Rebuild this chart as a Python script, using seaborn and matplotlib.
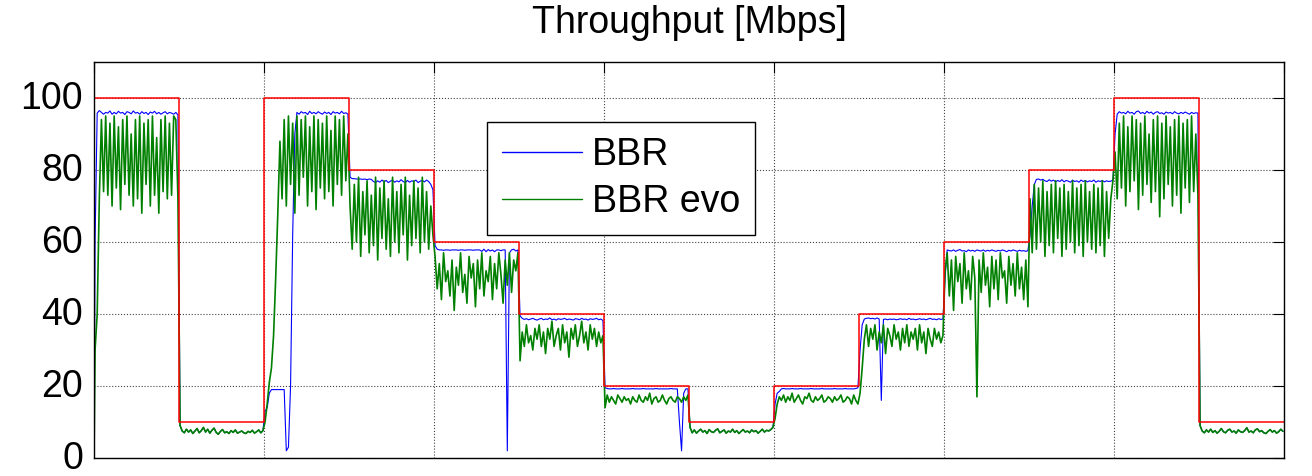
import numpy as np
import matplotlib
matplotlib.use("Agg")
import matplotlib.pyplot as plt
import matplotlib.transforms as mtransforms
import seaborn as sns

# ---------------- data ----------------
title_text = "Throughput [Mbps]"
series_labels = ["BBR", "BBR evo"]
x_ticks = [0, 20, 40, 60, 80, 100, 120, 140]
y_ticks = [0, 20, 40, 60, 80, 100]
seg_len = 10  # seconds per capacity step

# link capacity (red step line), one value per 10 s segment
capacity = [100, 10, 100, 80, 60, 40, 20, 10, 20, 40, 60, 80, 100, 10]

# BBR evo (green) – samples per segment
evo_start = [0]
evo_s00 = [30, 40, 72, 94, 74, 95, 73, 93, 70, 95,
           75, 92, 69, 94, 76, 95, 73, 90, 70, 94,
           72, 95, 68, 93, 76, 94, 70, 95, 73, 89,
           68, 94, 74, 95, 72, 93, 73, 95, 94, 72]
evo_s01 = [9.0, 7.5, 7.0, 8.0, 7.2, 7.8, 6.8, 7.5, 8.2, 7.0,
           7.6, 8.5, 7.2, 8.0, 6.9, 7.7, 8.3, 7.1, 6.6, 7.4,
           7.9, 7.0, 7.3, 6.8, 7.6, 7.1, 7.8, 6.9, 7.2, 7.5,
           7.0, 6.8, 7.4, 7.1, 7.7, 6.9, 7.3, 7.8, 7.0, 7.6]
evo_s02 = [10, 15, 21, 25, 34, 50, 68, 88, 72, 94,
           70, 95, 76, 93, 68, 95, 73, 94, 78, 95,
           70, 92, 74, 95, 69, 94, 75, 93, 72, 95,
           74, 91, 70, 95, 76, 94, 73, 95, 77, 90]
evo_s03 = [70, 58, 76, 60, 78, 56, 74, 62, 77, 57,
           73, 59, 78, 55, 75, 61, 77, 58, 72, 56,
           78, 60, 74, 57, 76, 62, 78, 55, 73, 59,
           77, 61, 75, 57, 78, 60, 74, 58, 70, 62]
evo_s04 = [56, 47, 54, 44, 57, 49, 52, 45, 55, 41,
           53, 48, 57, 46, 51, 43, 56, 50, 54, 42,
           55, 47, 57, 45, 52, 49, 56, 44, 54, 47,
           57, 51, 43, 55, 48, 57, 46, 55, 52, 57]
evo_s05 = [27, 35, 31, 37, 32, 34, 30, 36, 33, 37,
           31, 35, 29, 36, 33, 38, 31, 34, 36, 30,
           37, 32, 35, 28, 36, 33, 37, 31, 34, 38,
           32, 35, 30, 37, 33, 36, 31, 35, 32, 34]
evo_s06 = [14.0, 17.5, 15.5, 17.0, 16.0, 15.0, 17.5, 16.5, 15.5, 17.0,
           16.0, 16.5, 15.0, 17.0, 16.0, 15.5, 17.5, 16.0, 15.5, 17.0,
           16.0, 18.0, 15.0, 16.5, 17.0, 15.5, 16.0, 17.5, 16.0, 15.0,
           16.5, 17.0, 16.0, 15.5, 17.0, 16.5, 15.5, 17.0, 16.0, 17.5]
evo_s07 = [8.5, 7.0, 7.8, 6.9, 7.5, 8.0, 7.2, 7.6, 6.8, 7.9,
           7.3, 7.1, 7.7, 8.1, 7.0, 7.4, 7.8, 6.9, 7.5, 7.2,
           8.0, 7.1, 7.6, 6.8, 7.4, 7.9, 7.2, 7.5, 7.0, 7.8,
           7.3, 7.6, 6.9, 7.4, 8.0, 7.2, 7.7, 7.5, 7.9, 8.5]
evo_s08 = [11.0, 15.0, 17.0, 16.0, 17.5, 15.5, 17.0, 16.0, 18.0, 15.5,
           16.5, 17.5, 16.0, 15.0, 17.0, 16.5, 18.0, 16.0, 15.5, 17.0,
           16.0, 16.5, 17.5, 15.5, 16.0, 17.0, 16.5, 15.5, 17.0, 16.0,
           16.5, 17.5, 15.5, 16.0, 17.0, 16.5, 15.0, 17.5, 16.0, 15.0]
evo_s09 = [18, 25, 33, 37, 31, 36, 33, 37, 30, 35,
           32, 37, 29, 36, 34, 31, 37, 33, 35, 30,
           36, 32, 37, 31, 35, 33, 36, 30, 37, 32,
           35, 29, 36, 33, 31, 36, 33, 35, 32, 34]
evo_s10 = [52, 57, 45, 55, 41, 56, 49, 54, 43, 57,
           47, 52, 44, 56, 50, 17, 55, 46, 57, 48,
           53, 42, 56, 47, 55, 44, 57, 50, 52, 43,
           56, 48, 54, 45, 57, 47, 53, 44, 55, 42]
evo_s11 = [72, 57, 76, 58, 75, 60, 77, 56, 74, 59,
           76, 57, 77, 61, 75, 56, 76, 58, 74, 60,
           77, 57, 75, 59, 76, 56, 77, 60, 74, 58,
           76, 57, 75, 59, 77, 56, 74, 61, 72, 77]
evo_s12 = [85, 72, 93, 75, 95, 70, 92, 74, 95, 77,
           94, 69, 93, 73, 95, 76, 90, 71, 94, 74,
           95, 67, 93, 72, 95, 76, 92, 70, 94, 73,
           95, 68, 93, 75, 94, 71, 95, 74, 90, 73]
evo_s13 = [9.0, 7.5, 7.0, 7.8, 7.2, 8.0, 7.1, 7.6, 6.9, 7.4,
           8.2, 7.3, 7.0, 7.7, 8.0, 7.2, 7.5, 6.9, 7.8, 7.3,
           7.1, 7.6, 8.4, 7.2, 7.5, 7.0, 7.8, 8.1, 7.3, 7.6,
           7.0, 6.8, 7.4, 7.9, 7.2, 7.6, 6.9, 7.3, 8.0, 7.4]

# BBR (blue) – samples per segment (in the 10 Mbps segments it lies under the green line)
bbr_start = [0]
bbr_s00 = [60, 95.8, 96.5, 96.0, 95.5, 96.0, 95.8, 96.4, 95.5, 96.0,
           95.6, 96.3, 95.8, 96.0, 95.4, 96.2, 96.0, 95.6, 96.4, 95.8,
           96.0, 95.5, 96.2, 95.7, 96.0, 95.4, 96.1, 95.8, 96.3, 95.6,
           96.0, 95.5, 95.9, 96.2, 95.6, 96.0, 95.8, 95.5, 96.0, 95.3]
bbr_s01 = evo_s01
bbr_s02 = [13.0, 14.0, 18.0, 19.0, 19.0, 19.0, 19.0, 19.0, 19.0, 19.0,
           2.0, 3.0, 20.0, 62.0, 90.0, 96.0, 95.5, 96.2, 95.8, 96.0,
           95.4, 96.3, 95.7, 96.0, 95.6, 96.2, 95.8, 95.5, 96.1, 95.7,
           96.0, 95.4, 96.2, 95.8, 96.0, 95.6, 96.3, 95.7, 95.9, 95.5]
bbr_s03 = [78.0, 77.6, 77.6, 77.5, 77.5, 77.5, 77.4, 77.5, 77.3, 77.5,
           77.4, 76.8, 76.5, 77.0, 76.6, 77.2, 76.7, 77.1, 76.5, 76.9,
           77.2, 76.6, 77.0, 76.7, 77.3, 76.8, 76.5, 77.1, 76.6, 77.0,
           76.8, 77.2, 76.5, 76.9, 77.1, 76.7, 77.2, 76.8, 76.0, 74.5]
bbr_s04 = [59.0, 58.0, 57.8, 57.8, 57.7, 57.8, 57.8, 57.7, 57.8, 57.8,
           57.8, 57.7, 57.8, 57.8, 57.7, 57.8, 57.8, 57.8, 57.7, 57.8,
           57.8, 57.8, 57.4, 58.0, 57.3, 57.9, 57.5, 57.8, 57.3, 57.8,
           57.8, 57.6, 57.8, 57.8, 2.0, 57.0, 57.8, 58.0, 57.5, 57.8]
bbr_s05 = [39.5, 38.8, 38.5, 38.7, 38.4, 38.6, 38.8, 38.5, 38.3, 38.6,
           38.8, 38.4, 38.6, 38.5, 38.9, 38.4, 38.6, 38.3, 38.7, 38.5,
           38.6, 38.8, 38.4, 38.6, 38.5, 38.3, 38.7, 38.6, 38.4, 38.8,
           38.5, 38.6, 38.3, 38.7, 38.5, 38.6, 38.8, 38.4, 38.6, 38.2]
bbr_s06 = [19.5, 19.3, 19.2, 19.2, 19.3, 19.2, 19.2, 19.2, 19.3, 19.2,
           19.2, 19.2, 19.2, 19.3, 19.2, 19.2, 19.2, 19.2, 19.3, 19.2,
           19.2, 19.2, 19.2, 19.2, 19.3, 19.2, 19.2, 19.2, 19.2, 19.2,
           19.2, 19.3, 19.2, 19.2, 19.2, 10.0, 2.0, 18.0, 19.2, 19.2]
bbr_s07 = evo_s07
bbr_s08 = [15.0, 18.0, 18.5, 19.2, 19.3, 19.2, 19.2, 19.2, 19.3, 19.2,
           19.2, 19.2, 19.3, 19.2, 19.2, 19.2, 19.2, 19.3, 19.2, 19.2,
           19.2, 19.2, 19.3, 19.2, 19.2, 19.2, 19.2, 19.2, 19.3, 19.2,
           19.2, 19.2, 19.2, 19.3, 19.2, 19.2, 19.2, 19.2, 19.3, 19.5]
bbr_s09 = [30.0, 37.0, 38.6, 38.8, 38.9, 38.7, 38.8, 38.6, 38.9, 38.6,
           16.0, 38.5, 38.6, 38.4, 38.6, 38.5, 38.6, 38.4, 38.5, 38.7,
           38.5, 38.6, 38.4, 38.8, 38.5, 38.6, 38.4, 38.5, 38.7, 38.5,
           38.6, 38.4, 38.6, 38.8, 38.5, 38.6, 38.4, 38.7, 38.5, 38.6]
bbr_s10 = [50.0, 57.8, 57.6, 57.5, 57.8, 57.4, 57.7, 57.9, 57.5, 57.6,
           57.3, 57.8, 57.5, 57.7, 57.4, 57.8, 57.6, 57.5, 57.8, 57.4,
           57.7, 57.5, 57.8, 57.6, 57.4, 57.7, 57.5, 57.8, 57.6, 57.3,
           57.7, 57.5, 57.8, 57.6, 57.4, 57.7, 57.5, 57.6, 57.4, 57.6]
bbr_s11 = [62.0, 70.0, 76.0, 77.4, 77.5, 77.2, 77.4, 77.0, 76.8, 77.3,
           76.9, 77.2, 76.7, 77.1, 76.8, 77.3, 76.7, 77.1, 76.9, 76.6,
           77.2, 76.8, 77.0, 76.6, 77.2, 76.8, 77.1, 76.7, 77.0, 76.8,
           77.2, 76.6, 77.0, 76.8, 77.1, 76.7, 77.0, 76.8, 76.9, 77.2]
bbr_s12 = [90.0, 95.5, 96.2, 95.8, 96.0, 95.6, 96.3, 95.8, 96.0, 95.5,
           96.2, 96.4, 95.7, 96.0, 95.6, 96.3, 95.8, 96.1, 95.5, 96.0,
           96.2, 95.7, 95.9, 95.5, 96.1, 95.8, 96.0, 95.6, 96.2, 95.8,
           95.6, 96.0, 95.7, 96.1, 95.8, 95.5, 96.0, 95.7, 95.9, 95.8]
bbr_s13 = evo_s13

evo_segments = [evo_s00, evo_s01, evo_s02, evo_s03, evo_s04, evo_s05, evo_s06,
                evo_s07, evo_s08, evo_s09, evo_s10, evo_s11, evo_s12, evo_s13]
bbr_segments = [bbr_s00, bbr_s01, bbr_s02, bbr_s03, bbr_s04, bbr_s05, bbr_s06,
                bbr_s07, bbr_s08, bbr_s09, bbr_s10, bbr_s11, bbr_s12, bbr_s13]


def build_series(start, segments):
    t = [0.0]
    v = list(start)
    for i, seg in enumerate(segments):
        n = len(seg)
        t.extend(seg_len * i + (np.arange(n) + 0.5) * seg_len / n)
        v.extend(seg)
    return np.asarray(t, float), np.asarray(v, float)


t_bbr, v_bbr = build_series(bbr_start, bbr_segments)
t_evo, v_evo = build_series(evo_start, evo_segments)
cap_edges = np.arange(len(capacity) + 1) * seg_len
cap_vals = capacity + [capacity[-1]]

# ---------------- style ----------------
sns.set_theme(style="white")
plt.rcParams["font.family"] = ["Liberation Sans", "DejaVu Sans"]
plt.rcParams["text.color"] = "black"
plt.rcParams["xtick.color"] = "black"
plt.rcParams["ytick.color"] = "black"
plt.rcParams["axes.edgecolor"] = "black"

FS = 27
W, H = 1312, 476
fig = plt.figure(figsize=(W / 100, H / 100), dpi=100)
ax = fig.add_axes([94 / W, 1 - 458 / H, 1190 / W, 396 / H])

sns.lineplot(x=t_bbr, y=v_bbr, ax=ax, color="#0000FF", lw=0.8,
             estimator=None, sort=False, label=series_labels[0])
sns.lineplot(x=t_evo, y=v_evo, ax=ax, color="#008000", lw=1.2,
             estimator=None, sort=False, label=series_labels[1])
sns.lineplot(x=cap_edges, y=cap_vals, ax=ax, color="#FF0000", lw=1.1,
             drawstyle="steps-post", estimator=None, sort=False, legend=False)

ax.set_xlim(x_ticks[0], x_ticks[-1])
ax.set_ylim(0, 110)
ax.set_xticks(x_ticks)
ax.set_yticks(y_ticks)
ax.set_yticklabels([str(v) for v in y_ticks])
ax.tick_params(axis="both", direction="in", length=8, width=0.8,
               top=True, right=True, labelsize=FS, pad=8)
ax.tick_params(axis="x", labelbottom=False)
# nudge y tick labels up slightly so the "0" stays inside the figure
shift = mtransforms.ScaledTranslation(0, 2.5 / 72, fig.dpi_scale_trans)
for lab in ax.get_yticklabels():
    lab.set_transform(lab.get_transform() + shift)
ax.set_xlabel("")
ax.set_ylabel("")
ax.set_axisbelow(True)
ax.grid(True, linestyle=":", color="#444444", linewidth=0.8)
for sp in ax.spines.values():
    sp.set_visible(True)
    sp.set_color("black")
    sp.set_linewidth(1.0)

ax.set_title(title_text, fontsize=FS, pad=21)

leg = ax.legend(loc="upper left", bbox_to_anchor=(0.330, 0.848), fontsize=FS,
                frameon=True, fancybox=False, edgecolor="black", framealpha=1,
                borderpad=0.4, labelspacing=0.3, handlelength=2.15,
                handletextpad=0.25, borderaxespad=0)
leg.get_frame().set_linewidth(1.0)
for ln in leg.get_lines():
    ln.set_linewidth(1.0)

fig.savefig("out.png", dpi=100)
